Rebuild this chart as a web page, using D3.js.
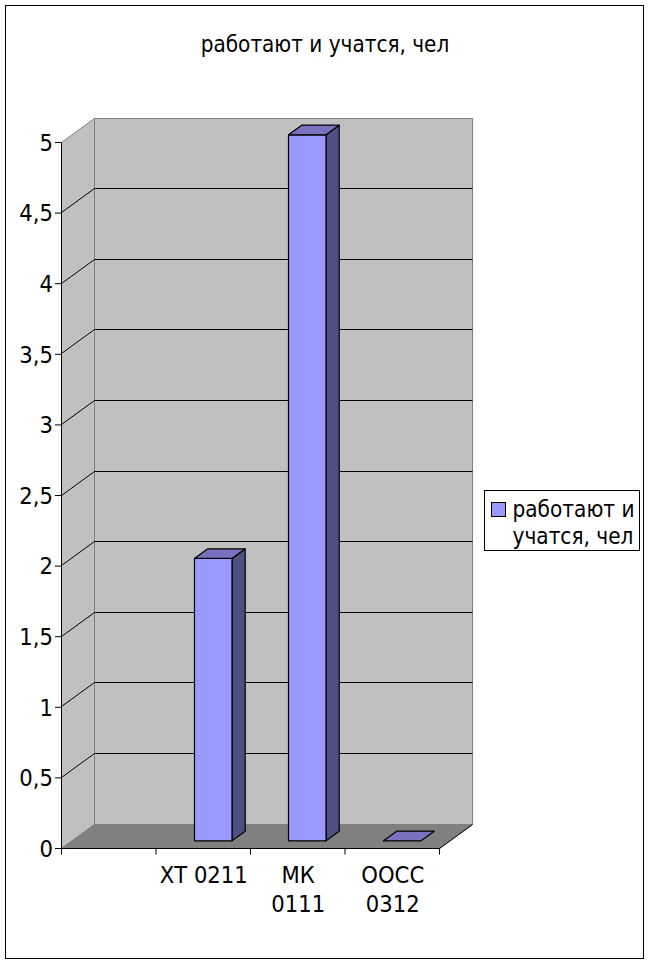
<!DOCTYPE html>
<html><head><meta charset="utf-8">
<script src="https://cdn.jsdelivr.net/npm/d3@7/dist/d3.min.js"></script>
<style>html,body{margin:0;padding:0;background:#fff}svg{display:block}text{font-family:"DejaVu Sans",sans-serif;fill:#000}</style>
</head><body><script>
const seriesName = "работают и учатся, чел";
const categories = ["", "ХТ 0211", "МК 0111", "ООСС 0312"];
const categoryLines = [[], ["ХТ 0211"], ["МК", "0111"], ["ООСС", "0312"]];
const values = [null, 2, 5, 0];
const yTicks = [0, 0.5, 1, 1.5, 2, 2.5, 3, 3.5, 4, 4.5, 5];
const legendLines = ["работают и", "учатся, чел"];

const W = 650, H = 963;
const svg = d3.select("body").append("svg").attr("width", W).attr("height", H);
const x = d3.scaleBand().domain(categories).range([61.5, 439.5]);
const y = d3.scaleLinear().domain([0, 5]).range([848, 142]);
const DX = 33, DY = -24;
const fmt = v => String(v).replace(".", ",");
const pts = a => a.map(p => p.join(",")).join(" ");
const FS = 23;
// narrow the glyphs horizontally, as the reference text is set
const squeeze = (sel, k = 0.9) => sel.attr("font-size", FS).attr("font-family", '"DejaVu Sans",sans-serif').attr("fill", "#000")
  .attr("lengthAdjust", "spacingAndGlyphs")
  .each(function () { this.setAttribute("textLength", this.getComputedTextLength() * k); });

svg.append("rect").attr("x", 5.5).attr("y", 5.5).attr("width", 638).attr("height", 953)
  .attr("fill", "#fff").attr("stroke", "#000");

svg.append("text").attr("x", 325).attr("y", 52).attr("text-anchor", "middle").text(seriesName).call(squeeze, 0.872);

const L = x.range()[0], R = x.range()[1], B = y(0) + 0.5, T = y(5) + 0.5;
// walls and floor
svg.append("polygon").attr("points", pts([[L, T], [L + DX, T + DY], [L + DX, B + DY], [L, B]])).attr("fill", "#c0c0c0").attr("stroke", "#808080");
svg.append("rect").attr("x", L + DX).attr("y", T + DY).attr("width", R - L).attr("height", B - T)
  .attr("fill", "#c0c0c0").attr("stroke", "#808080");
svg.append("polygon").attr("points", pts([[L, B], [L + DX, B + DY], [R + DX, B + DY], [R, B]])).attr("fill", "#808080").attr("stroke", "#808080");

// gridlines
const grid = svg.append("g").attr("fill", "none").attr("stroke", "#000");
yTicks.filter(t => t > 0 && t < 5).forEach(t => {
  const gy0 = Math.floor(y(t)) + 0.5;
  grid.append("polyline").attr("points", pts([[L, gy0], [L + DX, gy0 + DY], [R + DX, gy0 + DY]]));
});
// floor edge to the right
svg.append("line").attr("x1", R).attr("y1", B).attr("x2", R + DX).attr("y2", B + DY).attr("stroke", "#000");

// bars
const fz = 0.3, bz = 0.7, barW = 37.5;
const bars = svg.append("g").attr("stroke", "#000").attr("stroke-width", 1.2).attr("stroke-linejoin", "round");
categories.forEach((c, i) => {
  const v = values[i];
  if (v === null) return;
  const cx = x(c) + x.bandwidth() / 2 + DX * fz;
  const x0 = Math.floor(cx - barW / 2) + 0.5, x1 = x0 + barW;
  const oy = DY * fz, ddx = DX * (bz - fz), ddy = DY * (bz - fz);
  const yb = y(0) + oy, yt = y(v) + oy;
  if (v > 0) {
    bars.append("polygon").attr("points", pts([[x1, yt], [x1 + ddx, yt + ddy], [x1 + ddx, yb + ddy], [x1, yb]])).attr("fill", "#4d5080");
    bars.append("rect").attr("x", x0).attr("y", yt).attr("width", barW).attr("height", yb - yt).attr("fill", "#9999ff");
  }
  bars.append("polygon").attr("points", pts([[x0, yt], [x0 + ddx, yt + ddy], [x1 + ddx, yt + ddy], [x1, yt]])).attr("fill", "#7a72bf");
});

// axes
const yAxis = d3.axisLeft(y).tickValues(yTicks).tickFormat(fmt).tickSize(6).tickPadding(2);
const gy = svg.append("g").attr("transform", `translate(${L - 0.5},0)`).call(yAxis);
gy.select(".domain").attr("stroke", "#000").attr("d", `M0.5,${T}V${B}`);
gy.selectAll("text").attr("dy", "0.36em").call(squeeze, 0.92);

const xAxis = d3.axisBottom(x).tickValues([]).tickSize(0);
const gx = svg.append("g").attr("transform", `translate(0,${B})`).call(xAxis);
gx.select(".domain").attr("stroke", "#000").attr("d", `M${L},0H${R}`);
categories.forEach(c => {
  gx.append("line").attr("x1", x(c)).attr("x2", x(c)).attr("y1", 0).attr("y2", 6).attr("stroke", "#000");
});
gx.append("line").attr("x1", R).attr("x2", R).attr("y1", 0).attr("y2", 6).attr("stroke", "#000");
categories.forEach((c, i) => {
  const cx = x(c) + x.bandwidth() / 2 + 0.5;
  categoryLines[i].forEach((s, k) => {
    gx.append("text").attr("x", cx).attr("y", 34.5 + k * 29).attr("text-anchor", "middle").text(s).call(squeeze, 0.92);
  });
});

// legend
const lg = svg.append("g").attr("transform", "translate(484.5,490.5)");
lg.append("rect").attr("width", 155).attr("height", 60).attr("fill", "#fff").attr("stroke", "#000");
lg.append("rect").attr("x", 7).attr("y", 12).attr("width", 14).attr("height", 14).attr("fill", "#9999ff").attr("stroke", "#000");
legendLines.forEach((s, k) => {
  lg.append("text").attr("transform", `translate(28,${26 + k * 27}) scale(0.875,1)`)
    .attr("font-size", FS).text(s);
});
</script></body></html>
